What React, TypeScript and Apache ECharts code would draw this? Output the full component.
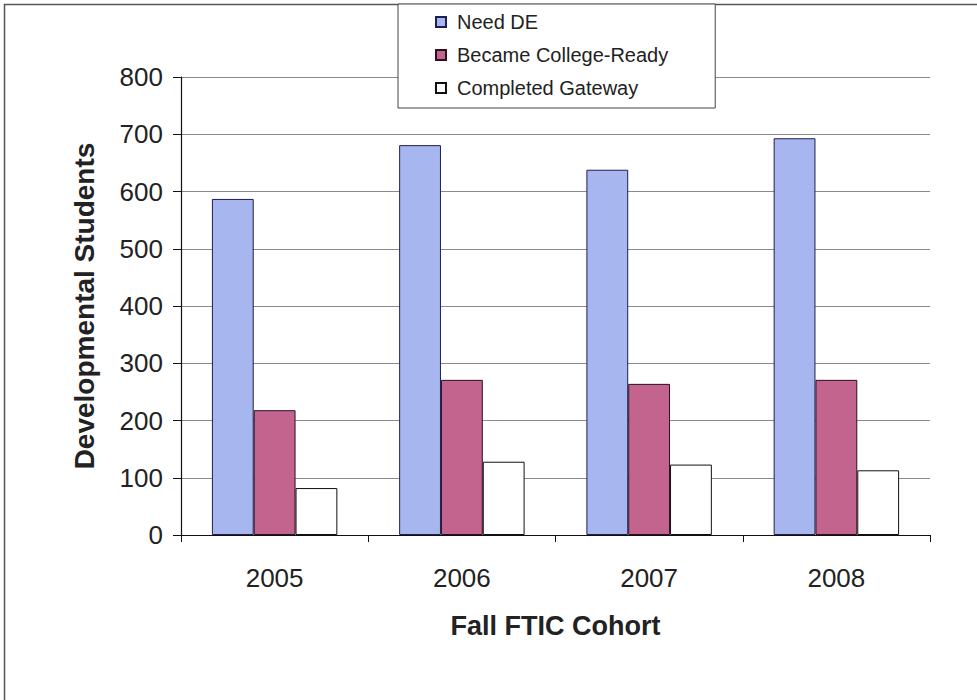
import React, { useEffect, useRef } from "react";
import * as echarts from "echarts";

const categories = ["2005", "2006", "2007", "2008"];
const needDE = [587, 681, 638, 693];
const becameCollegeReady = [218, 271, 264, 271];
const completedGateway = [82, 128, 123, 113];
const seriesNames = ["Need DE", "Became College-Ready", "Completed Gateway"];
const yTicks = { min: 0, max: 800, interval: 100 };

const FONT = "'Liberation Sans', Arial, sans-serif";

export default function App() {
  const ref = useRef<HTMLDivElement>(null);
  useEffect(() => {
    if (!ref.current) return;
    const chart = echarts.init(ref.current, null, { renderer: "svg" });
    const barBase = { type: "bar" as const, barGap: "0%", barCategoryGap: "33%" };
    chart.setOption({
      animation: false,
      backgroundColor: "#ffffff",
      textStyle: { fontFamily: FONT },
      graphic: [
        {
          type: "rect",
          shape: { x: 4.5, y: 4.5, width: 1200, height: 900 },
          style: { fill: "none", stroke: "#555", lineWidth: 1.5 },
          z: 0,
        },
      ],
      legend: {
        orient: "vertical",
        left: 398,
        top: 4,
        padding: [7, 47, 9, 37],
        itemGap: 11,
        itemWidth: 10,
        itemHeight: 10,
        icon: "rect",
        backgroundColor: "#ffffff",
        borderColor: "#444",
        borderWidth: 1,
        textStyle: {
          fontFamily: FONT,
          fontSize: 20,
          lineHeight: 22,
          color: "#222",
          padding: [0, 0, 0, 6],
        },
        data: seriesNames,
      },
      grid: { left: 181, right: 47, top: 77, bottom: 165, containLabel: false },
      xAxis: {
        type: "category",
        data: categories,
        name: "Fall FTIC Cohort",
        nameLocation: "middle",
        nameGap: 77,
        nameTextStyle: { fontFamily: FONT, fontSize: 27, fontWeight: "bold", color: "#222" },
        axisLine: { lineStyle: { color: "#111", width: 1.2 } },
        axisTick: { show: true, length: 7, lineStyle: { color: "#111" } },
        axisLabel: { fontFamily: FONT, fontSize: 26, color: "#222", margin: 30 },
      },
      yAxis: {
        type: "value",
        min: yTicks.min,
        max: yTicks.max,
        interval: yTicks.interval,
        name: "Developmental Students",
        nameLocation: "middle",
        nameGap: 83,
        nameTextStyle: { fontFamily: FONT, fontSize: 28, fontWeight: "bold", color: "#222" },
        axisLine: { show: true, lineStyle: { color: "#111", width: 1.2 } },
        axisTick: { show: true, length: 8, lineStyle: { color: "#111" } },
        axisLabel: { fontFamily: FONT, fontSize: 26, color: "#222", margin: 18 },
        splitLine: { show: true, lineStyle: { color: "#8a8a8a", width: 1 } },
      },
      series: [
        {
          ...barBase,
          name: seriesNames[0],
          data: needDE,
          itemStyle: { color: "#a8b6f0", borderColor: "#1e1e50", borderWidth: 1 },
        },
        {
          ...barBase,
          name: seriesNames[1],
          data: becameCollegeReady,
          itemStyle: { color: "#c3648f", borderColor: "#2a1020", borderWidth: 1 },
        },
        {
          ...barBase,
          name: seriesNames[2],
          data: completedGateway,
          itemStyle: { color: "#ffffff", borderColor: "#111", borderWidth: 1 },
        },
      ],
    });
    return () => chart.dispose();
  }, []);
  return (
    <div
      ref={ref}
      style={{ position: "absolute", left: 0, top: 0, width: 977, height: 700 }}
    />
  );
}
